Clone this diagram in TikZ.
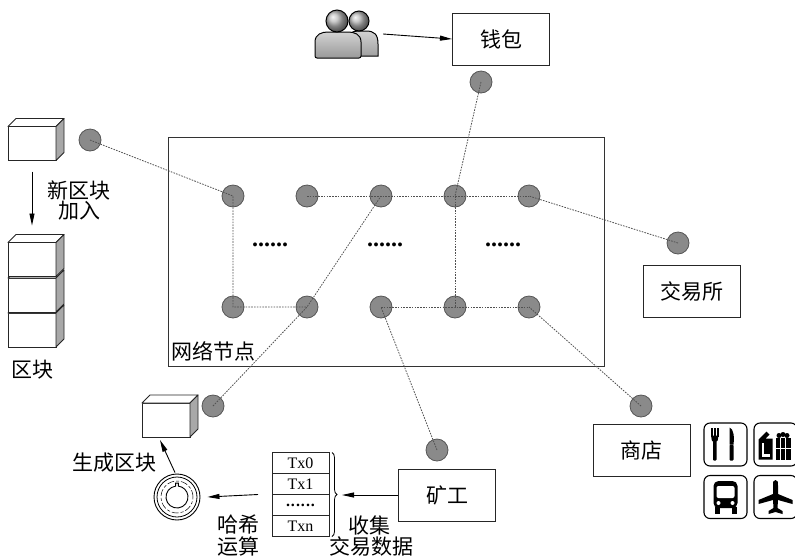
\documentclass[tikz,border=0pt]{standalone}
\usepackage{fontspec}
\setmainfont{Liberation Serif}
\newfontfamily\cjk{Noto Sans CJK SC}
\usetikzlibrary{arrows.meta, positioning, calc, decorations.pathreplacing}
\definecolor{NodeGray}{HTML}{8A8A8A}
\definecolor{NodeEdge}{HTML}{555555}
\definecolor{LinkGray}{HTML}{505050}
\definecolor{SideGray}{HTML}{A8A8A8}

% top and side faces of a block whose front face is node #1
\newcommand\blockfaces[1]{%
  \draw[blockedge, fill=white] (#1.north west) -- ++(8,-8) -- ([shift={(8,-8)}]#1.north east) -- (#1.north east) -- cycle;
  \draw[blockedge, fill=SideGray] (#1.north east) -- ++(8,-8) -- ([shift={(8,-8)}]#1.south east) -- (#1.south east) -- cycle;
}

\begin{document}
\begin{tikzpicture}[x=1pt, y=-1pt,
    box/.style={rectangle, draw=black!85, line width=1pt, minimum width=97pt, minimum height=52pt, inner sep=0pt, font=\cjk\fontsize{21}{24}\selectfont},
    peer/.style={circle, draw=NodeEdge, fill=NodeGray, line width=0.8pt, minimum size=22pt, inner sep=0pt},
    link/.style={LinkGray, line width=0.8pt, dash pattern=on 1.6pt off 1.2pt},
    blockface/.style={rectangle, draw=black!85, line width=0.9pt, fill=white, minimum width=48pt, minimum height=34pt, inner sep=0pt, outer sep=0pt},
    blockedge/.style={draw=black!85, line width=0.9pt, line join=round},
    txrow/.style={rectangle, draw=black!85, line width=0.9pt, minimum width=57pt, minimum height=21pt, inner sep=0pt, outer sep=0pt, font=\fontsize{16}{16}\selectfont},
    lbl/.style={inner sep=0pt, font=\cjk\fontsize{21}{24}\selectfont},
    more/.style={inner sep=0pt, font=\bfseries\fontsize{24}{24}\selectfont},
    iconbox/.style={rectangle, rounded corners=6pt, draw=black, line width=1.1pt, minimum size=43pt, inner sep=0pt},
    arr/.style={-{Triangle[length=12pt, width=5pt]}, line width=0.9pt, black}
  ]
  \useasboundingbox (0,0) rectangle (795,558);

  % network of peers
  \node[draw=black!80, line width=0.9pt, minimum width=436pt, minimum height=229pt, inner sep=0pt] (net) at (386,251.5) {};
  \node[lbl, anchor=south west] (netlbl) at ([shift={(4pt,5pt)}]net.south west) {网络节点};

  \node[peer] (n11) at (233,196) {};
  \node[peer] (n12) at (307,196) {};
  \node[peer] (n13) at (381,196) {};
  \node[peer] (n14) at (455,196) {};
  \node[peer] (n15) at (529,196) {};
  \node[peer] (n21) at (233,307) {};
  \node[peer] (n22) at (307,307) {};
  \node[peer] (n23) at (381,307) {};
  \node[peer] (n24) at (455,307) {};
  \node[peer] (n25) at (529,307) {};
  \node[more] (dotsA) at (270,245) {......};
  \node[more] (dotsB) at (385,245) {......};
  \node[more] (dotsC) at (503,245) {......};

  % peers outside the network
  \node[peer] (pblock) at (90,140) {};
  \node[peer] (pwallet) at (481,82) {};
  \node[peer] (pexch) at (678,243) {};
  \node[peer] (pshop) at (641,406) {};
  \node[peer] (pminer) at (437,450) {};
  \node[peer] (pnew) at (213,406) {};

  \draw[link] (pblock.center) -- (n11.center) -- (n21.center) -- (n22.center);
  \draw[link] (n12.center) -- (n13.center) -- (n14.center) -- (n15.center);
  \draw[link] (n14.center) -- (n24.center);
  \draw[link] (n23.center) -- (n24.center) -- (n25.center);
  \draw[link] (pwallet.center) -- (n14.center);
  \draw[link] (pexch.center) -- (n15.center);
  \draw[link] (pshop.center) -- (n25.center);
  \draw[link] (pminer.center) -- (n23.center);
  \draw[link] (pnew.center) -- (n22.center) -- (n13.center);

  % boxes
  \node[box] (wallet) at (501,39) {钱包};
  \node[box] (exch) at (692,291) {交易所};
  \node[box] (shop) at (641.5,450) {商店};
  \node[box] (miner) at (447,495) {矿工};

  % users
  \node[minimum width=64pt, minimum height=48pt, inner sep=0pt] (user) at (346,34) {};
  \draw[line width=1pt, top color=gray!35, bottom color=gray!75] (346,56) -- (346,44) .. controls (346,34) and (352,31) .. (358,31) -- (366,31) .. controls (374,31) and (378,34) .. (378,44) -- (378,56) -- cycle;
  \shade[ball color=gray!55, draw=black, line width=1pt] (359,21) circle (10);
  \draw[line width=1pt, top color=gray!35, bottom color=gray!80, rounded corners=2pt] (315,58) -- (315,44) .. controls (315,34) and (322,32) .. (330,32) -- (346,32) .. controls (354,32) and (361,34) .. (361,44) -- (361,58) -- cycle;
  \shade[ball color=gray!55, draw=black, line width=1pt] (337,21) circle (11);
  \draw[arr] (user.east) ++(5,0) -- (wallet.west);

  % chain on the left
  \node[blockface] (blk0) at (32,143.5) {};
  \blockfaces{blk0}
  \node[blockface] (blk3) at (32,330) {};
  \blockfaces{blk3}
  \node[blockface] (blk2) at (32,295) {};
  \blockfaces{blk2}
  \node[blockface] (blk1) at (32,259.5) {};
  \blockfaces{blk1}
  \draw[arr] ([yshift=-11pt]blk0.south) -- ([yshift=17pt]blk1.north);
  \node[lbl] (addlbl1) at (79,190) {新区块};
  \node[lbl] (addlbl2) at (79,211) {加入};
  \node[lbl] (chainlbl) at (32,370) {区块};

  % transactions collected by the miner
  \node[txrow] (tx0) at (300.5,463) {Tx0};
  \node[txrow, below=0pt of tx0] (tx1) {Tx1};
  \node[txrow, below=0pt of tx1] (tx2) {\bfseries.\kern1pt.\kern1pt.\kern1pt.\kern1pt.\kern1pt.};
  \node[txrow, below=0pt of tx2] (tx3) {Txn};
  \draw[line width=0.8pt, decorate, decoration={brace, amplitude=5pt}] ([xshift=3pt]tx0.north east) -- ([xshift=3pt]tx3.south east);
  \coordinate (txin) at (342,495);
  \draw[arr] (miner.west) -- (txin);
  \node[lbl] (collbl1) at (369,525) {收集};
  \node[lbl] (collbl2) at (371,546) {交易数据};

  % hashing
  \node[circle, draw=black, line width=0.9pt, minimum size=46pt, inner sep=0pt] (hash) at (177,497) {};
  \begin{scope}[shift={(hash.center)}, y=1pt]
    \draw[line width=0.8pt] (0,0) circle (20);
    \draw[line width=0.5pt, dash pattern=on 7pt off 2pt on 3pt off 2pt] (0,0) circle (16);
    \draw[line width=0.9pt] (97:11) arc (97:443:11) -- ++(0,3) -- ++(-2.7,0) -- cycle;
  \end{scope}
  \draw[arr] ([xshift=-14pt]tx1.south west) -- ([xshift=7pt]hash.east);
  \node[lbl] (hashlbl1) at (238,525) {哈希};
  \node[lbl] (hashlbl2) at (238,546) {运算};

  % new block
  \node[blockface] (newblk) at (166,420) {};
  \blockfaces{newblk}
  \draw[arr] ([xshift=-2pt, yshift=1pt]hash.north) -- ([xshift=-6pt, yshift=-3pt]newblk.south);
  \node[lbl] (genlbl) at (114,463) {生成区块};

  % places to spend
  \node[iconbox] (food) at (725.5,444.5) {};
  \node[iconbox] (gift) at (775.5,444.5) {};
  \node[iconbox] (bus) at (725.5,497) {};
  \node[iconbox] (plane) at (775.5,497) {};
  \begin{scope}[shift={(food.center)}, y=1pt]
    \fill (-14.5,8) rectangle (-13,17);
    \fill (-11.5,8) rectangle (-10,17);
    \fill (-8.5,8) rectangle (-7,17);
    \fill[rounded corners=1pt] (-14.5,9) -- (-7,9) -- (-8,3) -- (-13.5,3) -- cycle;
    \fill[rounded corners=1pt] (-12.5,4) rectangle (-9,-16);
    \fill[rounded corners=1pt] (4,-16) rectangle (8,0);
    \fill (4,0) -- (4,17) .. controls (8,16) and (9,8) .. (8,0) -- cycle;
  \end{scope}
  \begin{scope}[shift={(gift.center)}, y=1pt]
    \fill (-17,-15) -- (-17,5) -- (-9,13) -- (-6,10) -- (-10,6) -- (-3,6) -- (-3,-15) -- cycle;
    \fill[white] (-14,-12) rectangle (-6,2);
    \fill (-12,-9) rectangle (-6,2);
    \fill (0,-15) rectangle (15,7);
    \fill (3.5,9) circle (2.5) (7.5,10) circle (2.5) (11.5,9) circle (2.5);
    \draw[white, line width=1.2pt] (5,-15) -- (5,7) (10,-15) -- (10,7) (0,-4) -- (15,-4);
  \end{scope}
  \begin{scope}[shift={(bus.center)}, y=1pt]
    \fill[rounded corners=5pt] (-12,-11) rectangle (12,16);
    \fill[white, rounded corners=2pt] (-9,-1) rectangle (9,11);
    \fill (-11,-17) rectangle (-6,-10);
    \fill (6,-17) rectangle (11,-10);
    \fill[white] (-7,-6) circle (2) (7,-6) circle (2);
  \end{scope}
  \begin{scope}[shift={(plane.center)}, y=1pt]
    \fill (0,17) .. controls (2.5,16) .. (2.5,11) -- (2.5,3) -- (17,-3) -- (17,-7) -- (2.5,-3) -- (2,-11) -- (7,-14) -- (7,-17) -- (0,-15) -- (-7,-17) -- (-7,-14) -- (-2,-11) -- (-2.5,-3) -- (-17,-7) -- (-17,-3) -- (-2.5,3) -- (-2.5,11) .. controls (-2.5,16) .. cycle;
  \end{scope}
\end{tikzpicture}
\end{document}
